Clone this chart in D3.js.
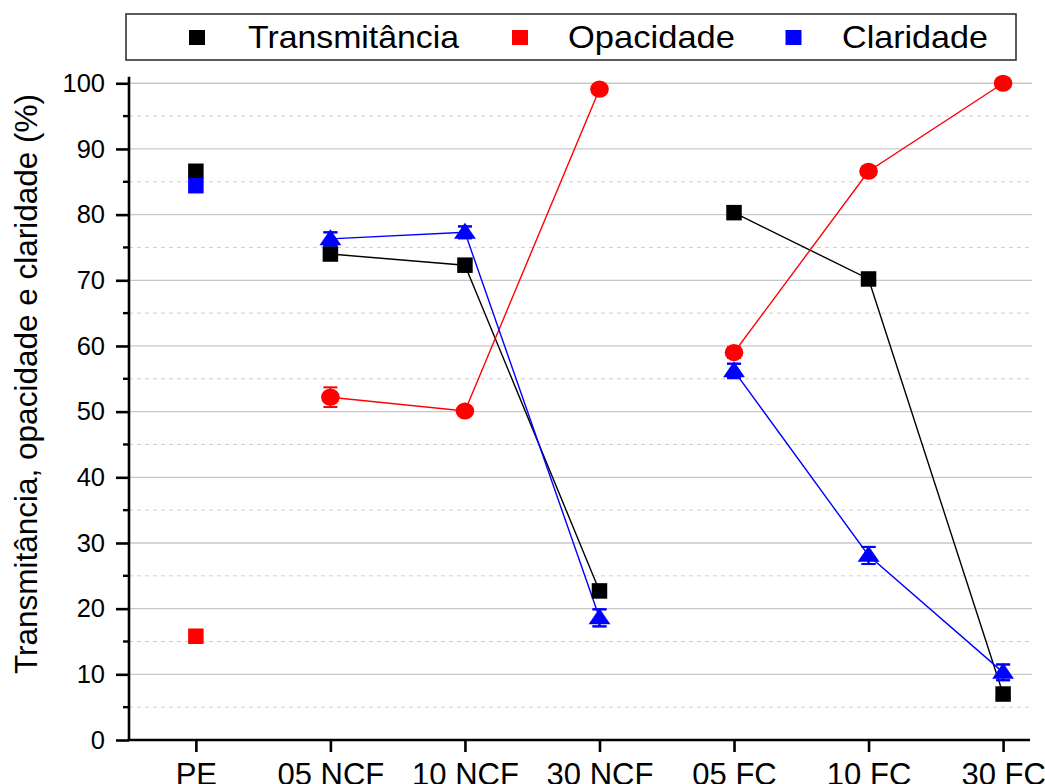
<!DOCTYPE html>
<html><head><meta charset="utf-8">
<script src="https://cdn.jsdelivr.net/npm/d3@7"></script>
<style>body{margin:0;background:#fff}svg{display:block}text{font-family:"Liberation Sans",Arial,sans-serif}</style>
</head><body><svg id="c" width="1045" height="784"></svg>
<script>
const categories = ["PE","05 NCF","10 NCF","30 NCF","05 FC","10 FC","30 FC"];
const transmitancia = [86.6,74.0,72.3,22.7,80.3,70.2,7.0];
const opacidade     = [15.8,52.2,50.1,99.1,59.0,86.6,100.0];
const opacidadeErr  = [0,1.5,0.4,0.5,0.8,0.4,0.3];
const claridade     = [84.4,76.3,77.3,18.6,56.2,28.1,10.3];
const claridadeErr  = [0,1.0,0.9,1.3,1.1,1.3,1.2];
const yTicks = [0,10,20,30,40,50,60,70,80,90,100];
const groups = [[1,2,3],[4,5,6]];
const seriesNames = ["Transmitância","Opacidade","Claridade"];
const seriesColors = ["#000000","#ff0000","#0000ff"];

const svg = d3.select("#c");
const x = d3.scaleLinear().domain([-0.497,6.2]).range([129,1030]);
const y = d3.scaleLinear().domain([0,101]).range([740,76.7]);

// grid
const g = svg.append("g");
g.selectAll("line.maj").data(yTicks.filter(d=>d>0)).join("line")
  .attr("x1",129).attr("x2",1032).attr("y1",d=>y(d)).attr("y2",d=>y(d))
  .attr("stroke","#c8c8c8").attr("stroke-width",1.3);
g.selectAll("line.min").data(d3.range(5,100,10)).join("line")
  .attr("x1",129).attr("x2",1032).attr("y1",d=>y(d)).attr("y2",d=>y(d))
  .attr("stroke","#cfcfcf").attr("stroke-width",1).attr("stroke-dasharray","4,4");

// axes
const yAxis = svg.append("g").attr("transform","translate(129,0)")
  .call(d3.axisLeft(y).tickValues(yTicks).tickSize(13).tickPadding(11));
yAxis.select(".domain").attr("stroke-width",2.6).attr("d","M0,"+y(101)+"V740");
yAxis.selectAll(".tick line").attr("stroke-width",2.6);
yAxis.selectAll("text").attr("font-size",25.5).attr("fill","#000").attr("font-family","Liberation Sans, Arial, sans-serif");
svg.append("g").selectAll("line").data(d3.range(5,100,10)).join("line")
  .attr("x1",123).attr("x2",129).attr("y1",d=>y(d)).attr("y2",d=>y(d))
  .attr("stroke","#000").attr("stroke-width",2.4);

const xAxis = svg.append("g").attr("transform","translate(0,740)")
  .call(d3.axisBottom(x).tickValues(d3.range(categories.length)).tickFormat(i=>categories[i]).tickSize(12).tickPadding(11));
xAxis.select(".domain").attr("stroke-width",2.6).attr("d","M127.7,0H1030");
xAxis.selectAll(".tick line").attr("stroke-width",2.6);
xAxis.selectAll("text").attr("font-size",31).attr("fill","#000").attr("dy","0.71em").attr("font-family","Liberation Sans, Arial, sans-serif");

svg.append("text").attr("transform","translate(37,384) rotate(-90)")
  .attr("text-anchor","middle").attr("font-size",31.5).text("Transmitância, opacidade e claridade (%)");

// lines
const line = d3.line().x(d=>x(d[0])).y(d=>y(d[1]));
[transmitancia,opacidade,claridade].forEach((vals,si)=>{
  groups.forEach(grp=>{
    svg.append("path").attr("d",line(grp.map(i=>[i,vals[i]])))
      .attr("fill","none").attr("stroke",seriesColors[si]).attr("stroke-width",1.4);
  });
});

// error bars
function errBars(vals, errs, color){
  const idx = d3.range(1,vals.length);
  const eg = svg.append("g").attr("stroke",color).attr("stroke-width",2);
  idx.forEach(i=>{
    if(!errs[i]) return;
    eg.append("line").attr("x1",x(i)).attr("x2",x(i)).attr("y1",y(vals[i]-errs[i])).attr("y2",y(vals[i]+errs[i]));
    [vals[i]-errs[i],vals[i]+errs[i]].forEach(v=>eg.append("line").attr("x1",x(i)-7).attr("x2",x(i)+7).attr("y1",y(v)).attr("y2",y(v)));
  });
}
errBars(opacidade,opacidadeErr,"#ff0000");
errBars(claridade,claridadeErr,"#0000ff");

// markers
const sq = 15.5;
[[transmitancia,0],[claridade,2],[opacidade,1]].forEach(([vals,si])=>{
  svg.append("rect").attr("x",x(0)-sq/2).attr("y",y(vals[0])-sq/2).attr("width",sq).attr("height",sq).attr("fill",seriesColors[si]);
});
svg.append("g").selectAll("rect").data(d3.range(1,7)).join("rect")
  .attr("x",i=>x(i)-sq/2).attr("y",i=>y(transmitancia[i])-sq/2).attr("width",sq).attr("height",sq).attr("fill","#000");
svg.append("g").selectAll("ellipse").data(d3.range(1,7)).join("ellipse")
  .attr("cx",i=>x(i)).attr("cy",i=>y(opacidade[i])).attr("rx",9.3).attr("ry",8.6).attr("fill","#ff0000");
const tri = d3.symbol().type(d3.symbolTriangle).size(165);
svg.append("g").selectAll("path").data(d3.range(1,7)).join("path")
  .attr("d",tri).attr("transform",i=>`translate(${x(i)},${y(claridade[i])+1}) scale(1.12,0.95)`).attr("fill","#0000ff");
errBars(claridade,claridadeErr,"#0000ff");

// legend
svg.append("rect").attr("x",126).attr("y",14).attr("width",890).attr("height",46)
  .attr("fill","#fff").attr("stroke","#333").attr("stroke-width",1.6);
const legX = [197,520,793.5], legTX = [248,568,842], legW = [211,167,146];
seriesNames.forEach((n,i)=>{
  svg.append("rect").attr("x",legX[i]-8).attr("y",30).attr("width",16).attr("height",15).attr("fill",seriesColors[i]);
  svg.append("text").attr("x",legTX[i]).attr("y",48).attr("font-size",32)
    .attr("textLength",legW[i]).attr("lengthAdjust","spacingAndGlyphs").text(n);
});
</script></body></html>
